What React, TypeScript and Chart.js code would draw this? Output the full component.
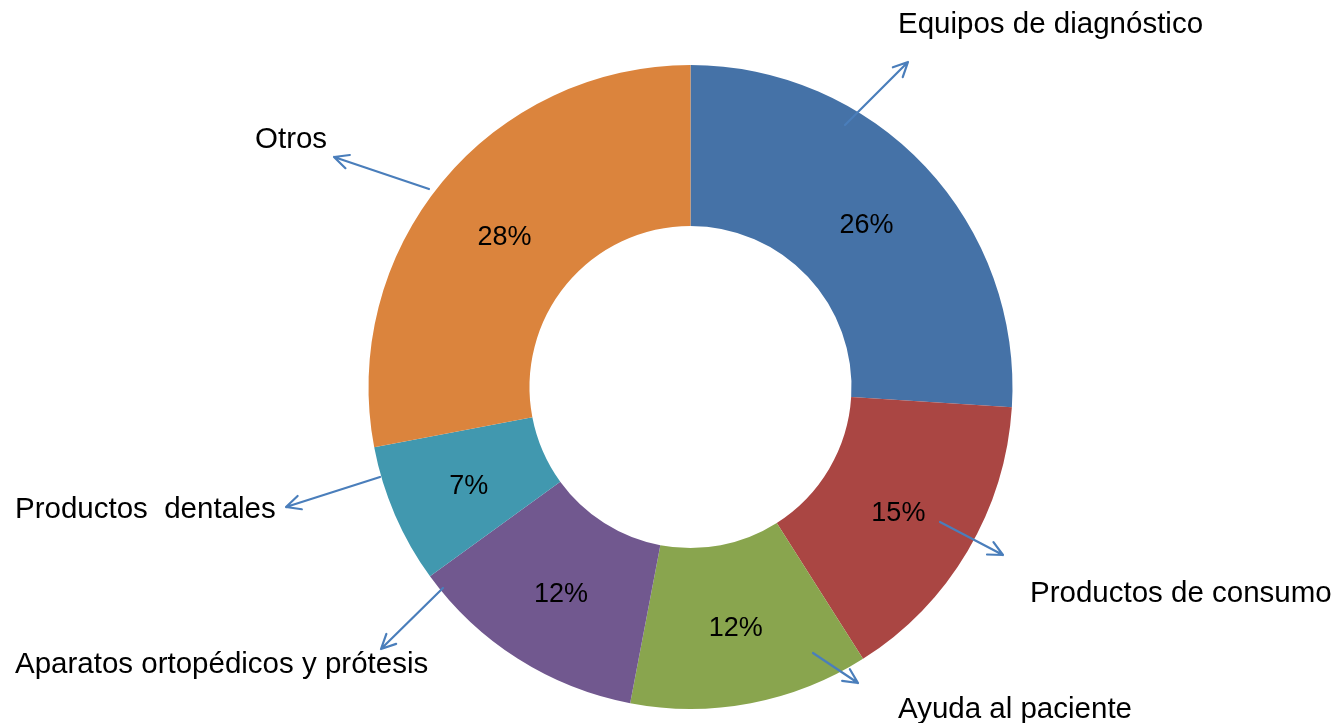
import React, { useEffect, useRef } from "react";
import { Chart, registerables } from "chart.js";

Chart.register(...registerables);

const categories = [
  "Equipos de diagnóstico",
  "Productos de consumo",
  "Ayuda al paciente",
  "Aparatos ortopédicos y prótesis",
  "Productos dentales",
  "Otros",
];
const shares = [26, 15, 12, 12, 7, 28];
const sliceColors = ["#4572A7", "#AA4643", "#89A54E", "#71588F", "#4198AF", "#DB843D"];

// callout annotations: text anchor (left, baseline) and arrow from -> to
const callouts = [
  { text: "Equipos de diagnóstico", tx: 898, ty: 33, x1: 845, y1: 125, x2: 908, y2: 62 },
  { text: "Productos de consumo", tx: 1030, ty: 602, x1: 940, y1: 522, x2: 1003, y2: 555 },
  { text: "Ayuda al paciente", tx: 898, ty: 718, x1: 813, y1: 653, x2: 858, y2: 683 },
  { text: "Aparatos ortopédicos y prótesis", tx: 15, ty: 673, x1: 443, y1: 588, x2: 381, y2: 649 },
  { text: "Productos  dentales", tx: 15, ty: 518, x1: 380, y1: 477, x2: 286, y2: 507 },
  { text: "Otros", tx: 255, ty: 148, x1: 429, y1: 189, x2: 334, y2: 157 },
];

const FONT = "'Liberation Sans', Arial, sans-serif";

const labelsPlugin = {
  id: "sliceLabels",
  afterDatasetsDraw(chart: any) {
    const ctx = chart.ctx;
    const meta = chart.getDatasetMeta(0);
    ctx.save();
    ctx.fillStyle = "#000";
    ctx.font = `27px ${FONT}`;
    ctx.textAlign = "center";
    ctx.textBaseline = "middle";
    meta.data.forEach((arc: any, i: number) => {
      const p = arc.tooltipPosition();
      ctx.fillText(`${shares[i]}%`, p.x, p.y + 4);
    });

    // callouts
    ctx.strokeStyle = "#4A7EBB";
    ctx.lineWidth = 2.2;
    ctx.lineCap = "round";
    ctx.lineJoin = "round";
    callouts.forEach((c) => {
      ctx.beginPath();
      ctx.moveTo(c.x1, c.y1);
      ctx.lineTo(c.x2, c.y2);
      const ang = Math.atan2(c.y2 - c.y1, c.x2 - c.x1);
      const h = 16;
      const spread = 0.45;
      ctx.moveTo(c.x2 - h * Math.cos(ang - spread), c.y2 - h * Math.sin(ang - spread));
      ctx.lineTo(c.x2, c.y2);
      ctx.lineTo(c.x2 - h * Math.cos(ang + spread), c.y2 - h * Math.sin(ang + spread));
      ctx.stroke();
    });
    ctx.fillStyle = "#000";
    ctx.font = `29.5px ${FONT}`;
    ctx.textAlign = "left";
    ctx.textBaseline = "alphabetic";
    callouts.forEach((c) => {
      ctx.fillText(c.text, c.tx, c.ty);
    });
    ctx.restore();
  },
};

export default function App() {
  const ref = useRef<HTMLCanvasElement | null>(null);
  useEffect(() => {
    if (!ref.current) return;
    const chart = new Chart(ref.current, {
      type: "doughnut",
      data: {
        labels: categories,
        datasets: [
          {
            data: shares,
            backgroundColor: sliceColors,
            borderWidth: 0,
            hoverOffset: 0,
          },
        ],
      },
      options: {
        responsive: false,
        animation: false,
        cutout: "50%",
        layout: { padding: { left: 368, right: 323, top: 65, bottom: 14 } },
        plugins: {
          legend: { display: false },
          tooltip: { enabled: false },
        },
        events: [],
      },
      plugins: [labelsPlugin],
    });
    return () => chart.destroy();
  }, []);
  return (
    <div style={{ position: "fixed", left: 0, top: 0, width: 1336, height: 723, background: "#fff" }}>
      <canvas ref={ref} width={1336} height={723} style={{ display: "block" }} />
    </div>
  );
}
